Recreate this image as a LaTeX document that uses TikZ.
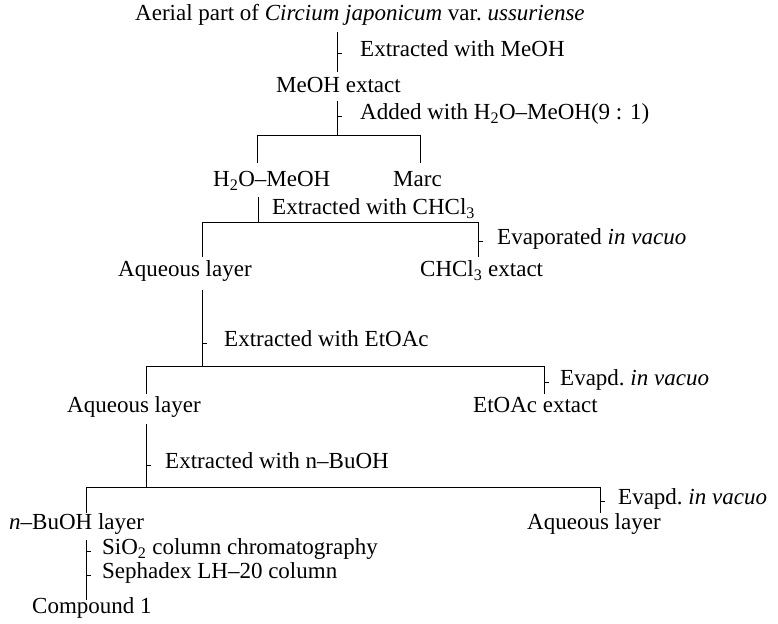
\documentclass[tikz,border=0pt]{standalone}
\usepackage{fontspec}
\setmainfont{Liberation Serif}
\begin{document}
\begin{tikzpicture}[x=1pt,y=-1pt,
  lbl/.style={inner sep=0pt, anchor=west, font=\fontsize{23}{26}\selectfont, text height=0.66em, text depth=0pt},
  ln/.style={line width=0.9pt},
  tk/.style={line width=0.7pt}]
\useasboundingbox (0,0) rectangle (778,623);
% texts
\node[lbl] (title) at (135,17) {Aerial part of \textit{Circium japonicum} var.\ \textit{ussuriense}};
\node[lbl] (ext1) at (360,53) {Extracted with MeOH};
\node[lbl] (meoh) at (276,89) {MeOH extact};
\node[lbl] (add) at (360,116) {Added with H\textsubscript{2}O--MeOH(9 : 1)};
\node[lbl] (h2o) at (213,183) {H\textsubscript{2}O--MeOH};
\node[lbl] (marc) at (393,183) {Marc};
\node[lbl] (ext2) at (272,211) {Extracted with CHCl\textsubscript{3}};
\node[lbl] (evap1) at (497,241) {Evaporated \textit{in vacuo}};
\node[lbl] (aq1) at (118,273) {Aqueous layer};
\node[lbl] (chcl3) at (420,273) {CHCl\textsubscript{3} extact};
\node[lbl] (ext3) at (224,343) {Extracted with EtOAc};
\node[lbl] (evap2) at (560,382) {Evapd.\ \textit{in vacuo}};
\node[lbl] (aq2) at (67,409) {Aqueous layer};
\node[lbl] (etoac) at (473,409) {EtOAc extact};
\node[lbl] (ext4) at (165,465) {Extracted with n--BuOH};
\node[lbl] (evap3) at (618,501) {Evapd.\ \textit{in vacuo}};
\node[lbl] (buoh) at (9,526) {\textit{n}--BuOH layer};
\node[lbl] (aq3) at (527,526) {Aqueous layer};
\node[lbl] (sio2) at (102,551) {SiO\textsubscript{2} column chromatography};
\node[lbl] (seph) at (102,575) {Sephadex LH--20 column};
\node[lbl] (cmpd) at (32,610) {Compound 1};
% junction coordinates
\coordinate (a1) at (337,32); \coordinate (a2) at (337,72);
\coordinate (b1) at (337,101); \coordinate (b2) at (337,135);
\coordinate (b3) at (257,135); \coordinate (b4) at (420,135);
\coordinate (c1) at (258,197); \coordinate (c2) at (258,222);
\coordinate (c3) at (202,222); \coordinate (c4) at (478,222);
\coordinate (d1) at (202,290); \coordinate (d2) at (202,366);
\coordinate (d3) at (146,366); \coordinate (d4) at (544,366);
\coordinate (e1) at (146,424); \coordinate (e2) at (146,487);
\coordinate (e3) at (86,487); \coordinate (e4) at (600,487);
\coordinate (f1) at (86,540); \coordinate (f2) at (86,600);
% connectors
\draw[ln] (a1) -- (a2);
\draw[tk] (a2 |- ext1) -- ++(5,0);
\draw[ln] (b1) -- (b2);
\draw[tk] (b1 |- add) -- ++(5,0);
\draw[ln] (b3) -- (b4);
\draw[ln] (b3) -- (b3 |- 0,163);
\draw[ln] (b4) -- (b4 |- 0,163);
\draw[ln] (c1) -- (c2);
\draw[ln] (c3) -- (c4);
\draw[ln] (c3) -- (c3 |- 0,257);
\draw[ln] (c4) -- (c4 |- 0,257);
\draw[tk] (c4 |- evap1) -- ++(5,0);
\draw[ln] (d1) -- (d2);
\draw[tk] (d1 |- ext3) -- ++(5,0);
\draw[ln] (d3) -- (d4);
\draw[ln] (d3) -- (d3 |- 0,394);
\draw[ln] (d4) -- (d4 |- 0,394);
\draw[tk] (d4 |- evap2) -- ++(5,0);
\draw[ln] (e1) -- (e2);
\draw[tk] (e1 |- ext4) -- ++(5,0);
\draw[ln] (e3) -- (e4);
\draw[ln] (e3) -- (e3 |- 0,513);
\draw[ln] (e4) -- (e4 |- 0,513);
\draw[tk] (e4 |- evap3) -- ++(5,0);
\draw[ln] (f1) -- (f2);
\draw[tk] (f1 |- sio2) -- ++(5,0);
\draw[tk] (f1 |- seph) -- ++(5,0);
\end{tikzpicture}
\end{document}
